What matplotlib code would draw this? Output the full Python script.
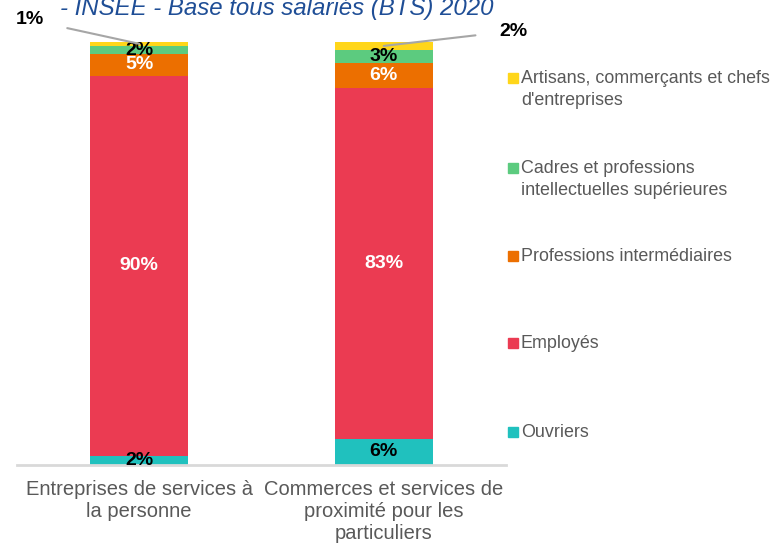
import matplotlib
matplotlib.use("Agg")
import matplotlib.pyplot as plt
from matplotlib.lines import Line2D
import numpy as np

plt.rcParams['font.family'] = ['Liberation Sans', 'DejaVu Sans']

categories = ["Entreprises de services à\nla personne",
              "Commerces et services de\nproximité pour les\nparticuliers"]
series = ["Ouvriers", "Employés", "Professions intermédiaires",
          "Cadres et professions\nintellectuelles supérieures",
          "Artisans, commerçants et chefs\nd'entreprises"]
ouvriers = [2, 6]
employes = [90, 83]
prof_inter = [5, 6]
cadres = [2, 3]
artisans = [1, 2]
values = [ouvriers, employes, prof_inter, cadres, artisans]
colors = ["#20C1BE", "#EB3B52", "#EC6F00", "#5CCB7F", "#FFD61A"]
label_colors = ["black", "white", "white", "black", None]
title = "- INSEE - Base tous salariés (BTS) 2020"

W, H = 774, 543
fig = plt.figure(figsize=(W / 100, H / 100), dpi=100)
left, right, bottom, top = 17, 506, 464.5, 41.7
ax = fig.add_axes([left / W, 1 - bottom / H, (right - left) / W, (bottom - top) / H])

x = np.arange(len(categories))
bw = 0.4
cum = np.zeros(len(categories))
for vals, col, lc in zip(values, colors, label_colors):
    vals = np.array(vals, dtype=float)
    ax.bar(x, vals, bw, bottom=cum, color=col, edgecolor='none', zorder=2)
    if lc is not None:
        for xi, v, c in zip(x, vals, cum):
            ax.text(xi, c + v / 2, f"{int(v)}%", ha='center', va='center',
                    color=lc, fontsize=14, fontweight='bold', zorder=3)
    cum = cum + vals

# Artisans labels with leader lines
art_text_pos = [(30, 20), (513, 31)]
for xi, v, c, (tx, ty) in zip(x, artisans, cum - np.array(artisans), art_text_pos):
    ax.annotate(f"{int(v)}%", xy=(xi, c + v / 2), xycoords='data',
                xytext=(tx, H - ty), textcoords='figure pixels',
                ha='center', va='center', fontsize=14, fontweight='bold',
                color='black', annotation_clip=False,
                arrowprops=dict(arrowstyle='-', color='#A6A6A6', lw=1.5,
                                shrinkA=15, shrinkB=0))

ax.set_xlim(-0.5, 1.5)
ax.set_ylim(0, 100)
ax.set_yticks([])
ax.set_xticks(x)
ax.set_xticklabels(categories, fontsize=14.5, color='#595959', linespacing=1.2)
ax.tick_params(axis='x', length=0, pad=11.5)
for s in ['left', 'right', 'top']:
    ax.spines[s].set_visible(False)
ax.spines['bottom'].set_color('#D9D9D9')
ax.spines['bottom'].set_linewidth(2)

# Legend (manual, aligned to first line)
leg_y = [78, 168, 256, 343, 432]
leg_order = [4, 3, 2, 1, 0]
for yy, idx in zip(leg_y, leg_order):
    fig.add_artist(Line2D([512.5 / W], [1 - yy / H], marker='s', markersize=6.5,
                          color=colors[idx], linestyle='none',
                          transform=fig.transFigure))
    fig.text(521 / W, 1 - (yy - 8) / H, series[idx], ha='left', va='top',
             fontsize=12.9, color='#595959', linespacing=1.35)

fig.text(277 / W, 1 - 15 / H, title, ha='center', va='baseline',
         fontsize=17.3, style='italic', color='#1F4E96')

fig.savefig("out.png", dpi=100)
